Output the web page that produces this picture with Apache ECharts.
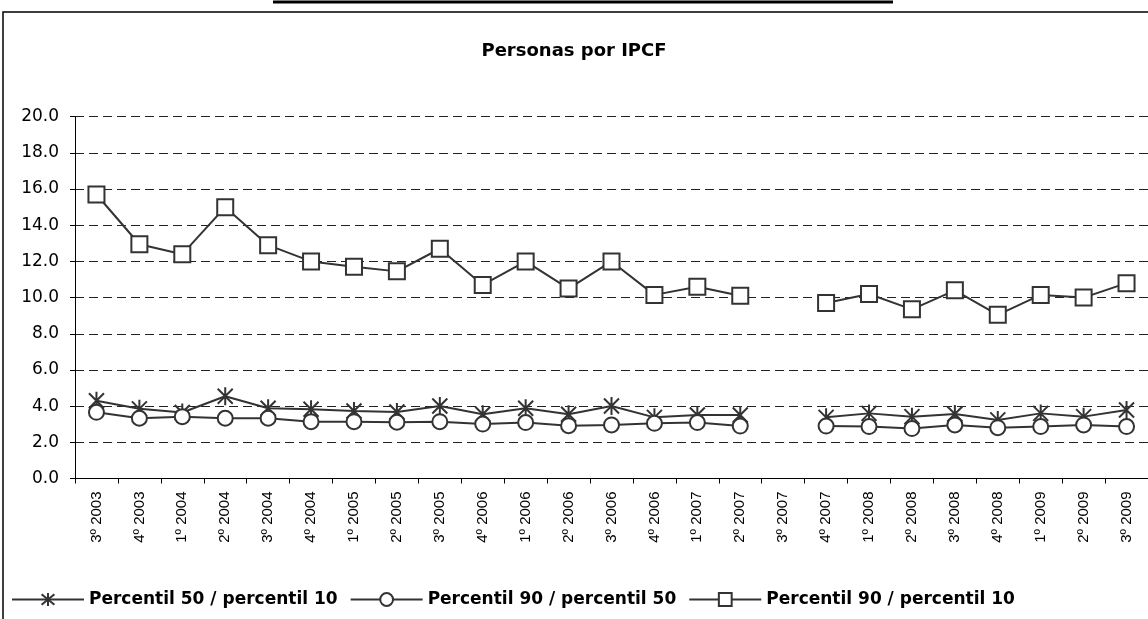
<!DOCTYPE html>
<html>
<head>
<meta charset="utf-8">
<script src="https://cdn.jsdelivr.net/npm/echarts@6/dist/echarts.min.js"></script>
<style>
  html, body { margin: 0; padding: 0; background: #fff; }
  #chart { width: 1148px; height: 619px; }
</style>
</head>
<body>
<div id="chart"></div>
<script>
var trimestres = ['3º 2003', '4º 2003', '1º 2004', '2º 2004', '3º 2004', '4º 2004', '1º 2005', '2º 2005', '3º 2005',
  '4º 2006', '1º 2006', '2º 2006', '3º 2006', '4º 2006', '1º 2007', '2º 2007', '3º 2007', '4º 2007',
  '1º 2008', '2º 2008', '3º 2008', '4º 2008', '1º 2009', '2º 2009', '3º 2009']

var p50p10 = [4.30, 3.85, 3.65, 4.55, 3.88, 3.83, 3.73, 3.68, 4.01, 3.55, 3.88, 3.55, 4.01, 3.38, 3.51, 3.51, null,
  3.38, 3.60, 3.42, 3.57, 3.24, 3.60, 3.42, 3.79]
var p90p50 = [3.66, 3.33, 3.42, 3.33, 3.33, 3.14, 3.14, 3.11, 3.14, 3.01, 3.09, 2.92, 2.96, 3.05, 3.09, 2.90, null,
  2.90, 2.87, 2.76, 2.96, 2.81, 2.87, 2.96, 2.87]
var p90p10 = [15.7, 12.95, 12.4, 15.0, 12.9, 12.0, 11.7, 11.45, 12.7, 10.7, 12.0, 10.5, 12.0, 10.15, 10.6, 10.1, null,
  9.7, 10.2, 9.35, 10.4, 9.05, 10.15, 10.0, 10.8]

var nombres = ['Percentil 50 / percentil 10', 'Percentil 90 / percentil 50', 'Percentil 90 / percentil 10']

var fuente = 'DejaVu Sans, Verdana, sans-serif'
var fuenteEje = 'Liberation Sans, Arial, sans-serif'
var asterisco = 'path://M0,0L20,20M0,20L20,0M10,-2L10,22'
var lineCol = '#333'

var chart = echarts.init(document.getElementById('chart'))

function serie(name, data, symbol, size) {
  return {
    name: name, type: 'line', data: data, symbol: symbol, symbolSize: size, symbolKeepAspect: true,
    connectNulls: false, showAllSymbol: true,
    lineStyle: {color: lineCol, width: 2},
    itemStyle: {color: '#fff', borderColor: lineCol, borderWidth: 2},
    emphasis: {disabled: true}
  }
}

var option = {
  animation: false,
  backgroundColor: '#fff',
  textStyle: {fontFamily: fuente},
  title: {
    text: 'Personas por IPCF', left: 'center', top: 37,
    textStyle: {fontSize: 18, fontWeight: 'bold', color: '#000', fontFamily: fuente}
  },
  graphic: [
    {type: 'line', shape: {x1: 273, y1: 2, x2: 893, y2: 2}, style: {stroke: '#000', lineWidth: 3}},
    {type: 'rect', shape: {x: 3, y: 12, width: 1300, height: 800}, style: {fill: 'none', stroke: '#000', lineWidth: 1.5}}
  ],
  legend: {
    left: 6, top: 586, itemWidth: 72, itemHeight: 16, itemGap: 12,
    textStyle: {fontSize: 17, fontWeight: 'bold', color: '#000', fontFamily: fuente},
    data: nombres
  },
  grid: {left: 75, right: -3, top: 116.7, bottom: 140.5, containLabel: false},
  xAxis: {
    type: 'category', data: trimestres, boundaryGap: true,
    axisLine: {lineStyle: {color: '#000', width: 1}},
    axisTick: {show: true, length: 5, lineStyle: {color: '#000'}},
    axisLabel: {rotate: 90, fontSize: 15, color: '#000', margin: 13, interval: 0, fontFamily: fuenteEje}
  },
  yAxis: {
    type: 'value', min: 0, max: 20, interval: 2,
    axisLine: {show: true, lineStyle: {color: '#000', width: 1}},
    axisTick: {show: true, length: 5, lineStyle: {color: '#000'}},
    axisLabel: {fontSize: 17, color: '#000', margin: 16, fontFamily: fuente,
      formatter: function (v) { return v.toFixed(1) }},
    splitLine: {show: true, lineStyle: {color: '#222', type: [9, 5], width: 1}}
  },
  series: [
    serie(nombres[0], p50p10, asterisco, 18),
    serie(nombres[1], p90p50, 'circle', 15),
    serie(nombres[2], p90p10, 'rect', 16)
  ]
}

chart.setOption(option)
</script>
</body>
</html>
